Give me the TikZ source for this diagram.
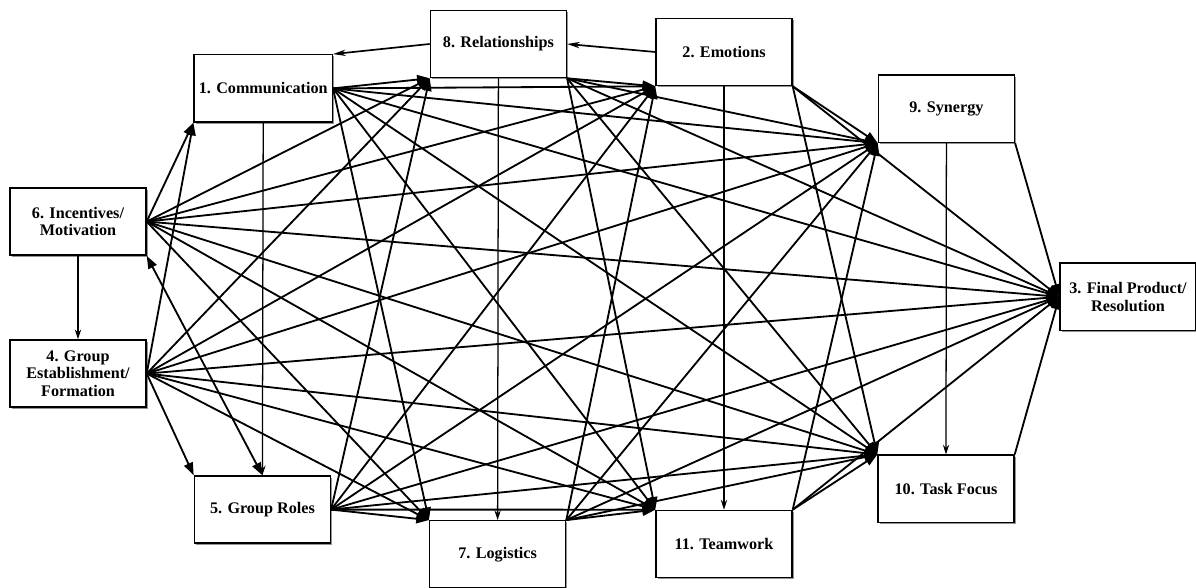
\documentclass[tikz,border=0pt]{standalone}
\usepackage{fontspec}
\setmainfont{Liberation Serif}
\usepackage{tikz}
\usetikzlibrary{arrows.meta, shadows}

\begin{document}
\begin{tikzpicture}[every node/.style={font=\fontsize{11.5}{12.5}\selectfont\bfseries},
  factor/.style={draw, line width=1pt, fill=white, align=center,
    minimum width=3.4cm, minimum height=1.68cm,
    drop shadow={shadow xshift=1.2pt, shadow yshift=-1.2pt, fill=black!70, opacity=.6}},
  fanarrow/.style={line width=1.3pt, -{Triangle[length=9pt, width=6.5pt]}},
  twoway/.style={line width=1.3pt, {Triangle[length=9pt, width=6.5pt]}-{Triangle[length=9pt, width=6.5pt]}},
  vline/.style={line width=0.9pt, -{Stealth[length=7pt, width=4.5pt]}},
  backarrow/.style={line width=1.2pt, -{Stealth[length=9pt, width=4.5pt]}}]
  \useasboundingbox (0, 0) rectangle (29.9, 14.7);

  % the eleven factors
  \node[factor] (n1)  at (6.58, 12.49) {1. Communication};
  \node[factor] (n8)  at (12.46, 13.6) {8. Relationships};
  \node[factor] (n2)  at (18.1, 13.4)  {2. Emotions};
  \node[factor] (n9)  at (23.66, 11.98) {9. Synergy};
  \node[factor] (n6)  at (1.95, 9.16)  {6. Incentives/\\Motivation};
  \node[factor] (n4)  at (1.95, 5.36)  {4. Group\\Establishment/\\Formation};
  \node[factor] (n5)  at (6.56, 1.96)  {5. Group Roles};
  \node[factor] (n7)  at (12.44, 0.84) {7. Logistics};
  \node[factor] (n11) at (18.1, 1.1)   {11. Teamwork};
  \node[factor] (n10) at (23.65, 2.48) {10. Task Focus};
  \node[factor] (n3)  at (28.2, 7.28)  {3. Final Product/\\Resolution};

  % where the arrows leave (o) and arrive (i)
  \coordinate (o6) at (n6.east);
  \coordinate (o4) at (n4.east);
  \coordinate (i1) at (n1.south west);   \coordinate (o1) at (n1.east);
  \coordinate (i5) at (n5.north west);   \coordinate (o5) at (n5.east);
  \coordinate (i8) at (n8.south west);   \coordinate (o8) at (n8.south east);
  \coordinate (i7) at (n7.north west);   \coordinate (o7) at (n7.north east);
  \coordinate (i2) at (n2.south west);   \coordinate (o2) at (n2.south east);
  \coordinate (i11) at (n11.north west); \coordinate (o11) at (n11.north east);
  \coordinate (i9) at (n9.south west);   \coordinate (o9) at (n9.south east);
  \coordinate (i10) at (n10.north west); \coordinate (o10) at (n10.north east);
  \coordinate (i3) at (n3.west);

  \foreach \s/\ts in {6/{1,8,2,9,3,10,11,7}, 4/{1,5,8,2,9,3,10,11,7},
                      1/{8,2,9,3,10,11,7}, 5/{8,2,9,3,10,11,7},
                      8/{2,9,3,10,11}, 7/{2,9,3,10,11},
                      2/{9,3,10}, 11/{9,3,10}, 9/{3}, 10/{3}} {
    \foreach \t in \ts
      \draw[fanarrow] (o\s) -- (i\t);
  }

  \foreach \a/\b in {6/4, 1/5, 8/7, 2/11, 9/10}
    \draw[vline] (n\a.south) -- (n\b.north);

  \draw[twoway] (n6.south east) -- (n5.north);
  \draw[backarrow] (n8.west) -- (n1.north east);
  \draw[backarrow] (n2.west) -- (n8.east);

\end{tikzpicture}
\end{document}
